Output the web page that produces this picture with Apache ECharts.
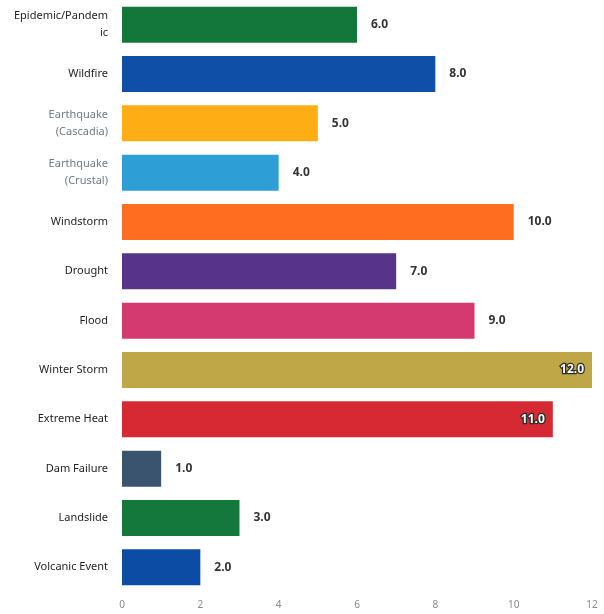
<!DOCTYPE html>
<html>
<head>
<meta charset="utf-8">
<script src="https://cdn.jsdelivr.net/npm/echarts@6/dist/echarts.min.js"></script>
<style>
  html, body { margin: 0; padding: 0; background: #fff; }
  #hazardChart { width: 604px; height: 614px; }
</style>
</head>
<body>
<div id="hazardChart"></div>
<script>
// hazard categories, top to bottom
const hazards = [
  'Epidemic/Pandem\nic', 'Wildfire', 'Earthquake\n(Cascadia)', 'Earthquake\n(Crustal)',
  'Windstorm', 'Drought', 'Flood', 'Winter Storm', 'Extreme Heat',
  'Dam Failure', 'Landslide', 'Volcanic Event'
];
const scores = [6, 8, 5, 4, 10, 7, 9, 12, 11, 1, 3, 2];
const barColors = [
  '#13773a', '#0f4fa8', '#ffad14', '#2e9fd6', '#ff6e20', '#57338a',
  '#d43a70', '#bfa646', '#d52a33', '#3a5470', '#14783a', '#0d4ca4'
];
const xTicks = [0, 2, 4, 6, 8, 10, 12];

const chart = echarts.init(document.getElementById('hazardChart'));

const barData = scores.map((v, i) => {
  const item = { value: v, itemStyle: { color: barColors[i] } };
  // the two longest bars carry their label inside
  if (v >= 11) {
    item.label = {
      position: 'insideRight',
      distance: 8,
      color: '#fff',
      textBorderColor: '#2a2a2a',
      textBorderWidth: 2.5
    };
  }
  return item;
});

chart.setOption({
  animation: false,
  grid: { left: 122, right: 12, top: -3, bottom: 22, containLabel: false },
  xAxis: {
    type: 'value',
    min: 0,
    max: 12,
    interval: 2,
    axisLine: { show: false },
    axisTick: { show: false },
    splitLine: { show: false },
    axisLabel: {
      color: '#8a8a8a',
      fontSize: 10,
      fontFamily: 'Noto Sans',
      margin: 8,
      formatter: v => (xTicks.includes(v) ? String(v) : '')
    }
  },
  yAxis: {
    type: 'category',
    data: hazards,
    inverse: true,
    axisLine: { show: false },
    axisTick: { show: false },
    axisLabel: {
      margin: 14,
      fontSize: 11,
      lineHeight: 17,
      fontFamily: 'Noto Sans',
      color: (val) => val.startsWith('Earthquake') ? '#6d7c8c' : '#1e1e1e'
    }
  },
  series: [{
    type: 'bar',
    data: barData,
    barWidth: 36,
    label: {
      show: true,
      position: 'right',
      distance: 14,
      fontSize: 12,
      fontWeight: 'bold',
      fontFamily: 'Noto Sans',
      color: '#333',
      formatter: p => p.value.toFixed(1)
    }
  }]
});
</script>
</body>
</html>
